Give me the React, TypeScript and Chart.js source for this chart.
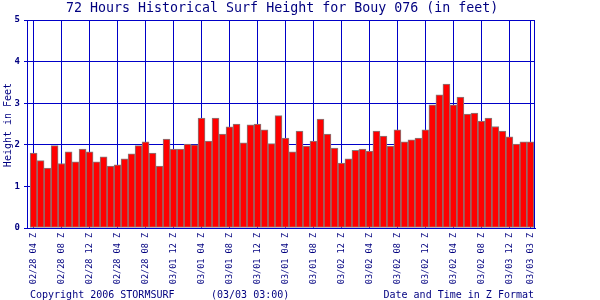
import React, { useEffect, useRef } from "react";
import { Chart, registerables } from "chart.js";

Chart.register(...registerables);

const TITLE = "72 Hours Historical Surf Height for Bouy 076 (in feet)";
const Y_TITLE = "Height in Feet";
const FOOT_LEFT = "Copyright 2006 STORMSURF";
const FOOT_MID = "(03/03 03:00)";
const FOOT_RIGHT = "Date and Time in Z Format";

const categories: string[] = [
  "02/28 04 Z", "02/28 05 Z", "02/28 06 Z", "02/28 07 Z", "02/28 08 Z", "02/28 09 Z", "02/28 10 Z", "02/28 11 Z",
  "02/28 12 Z", "02/28 01 Z", "02/28 02 Z", "02/28 03 Z", "02/28 04 Z", "02/28 05 Z", "02/28 06 Z", "02/28 07 Z",
  "02/28 08 Z", "02/28 09 Z", "02/28 10 Z", "02/28 11 Z",
  "03/01 12 Z", "03/01 01 Z", "03/01 02 Z", "03/01 03 Z", "03/01 04 Z", "03/01 05 Z", "03/01 06 Z", "03/01 07 Z",
  "03/01 08 Z", "03/01 09 Z", "03/01 10 Z", "03/01 11 Z", "03/01 12 Z", "03/01 01 Z", "03/01 02 Z", "03/01 03 Z",
  "03/01 04 Z", "03/01 05 Z", "03/01 06 Z", "03/01 07 Z", "03/01 08 Z", "03/01 09 Z", "03/01 10 Z", "03/01 11 Z",
  "03/02 12 Z", "03/02 01 Z", "03/02 02 Z", "03/02 03 Z", "03/02 04 Z", "03/02 05 Z", "03/02 06 Z", "03/02 07 Z",
  "03/02 08 Z", "03/02 09 Z", "03/02 10 Z", "03/02 11 Z", "03/02 12 Z", "03/02 01 Z", "03/02 02 Z", "03/02 03 Z",
  "03/02 04 Z", "03/02 05 Z", "03/02 06 Z", "03/02 07 Z", "03/02 08 Z", "03/02 09 Z", "03/02 10 Z", "03/02 11 Z",
  "03/03 12 Z", "03/03 01 Z", "03/03 02 Z", "03/03 03 Z",
];

const heights: number[] = [
  1.80, 1.62, 1.44, 1.98, 1.55, 1.83, 1.59, 1.90, 1.83, 1.59, 1.71, 1.49,
  1.52, 1.66, 1.78, 1.98, 2.07, 1.80, 1.49, 2.14, 1.90, 1.90, 2.02, 2.00,
  2.64, 2.09, 2.64, 2.26, 2.43, 2.50, 2.05, 2.48, 2.50, 2.36, 2.03, 2.70,
  2.16, 1.83, 2.33, 1.97, 2.09, 2.62, 2.26, 1.92, 1.56, 1.66, 1.87, 1.90,
  1.85, 2.33, 2.21, 1.97, 2.36, 2.07, 2.12, 2.16, 2.36, 2.96, 3.20, 3.46,
  2.96, 3.15, 2.74, 2.76, 2.57, 2.64, 2.44, 2.33, 2.19, 2.02, 2.07, 2.07,
];

const labeledTicks: number[] = [0, 4, 8, 12, 16, 20, 24, 28, 32, 36, 40, 44, 48, 52, 56, 60, 64, 68, 71];
const yTicks: number[] = [0, 1, 2, 3, 4, 5];

const BLUE = "#0000c8";
const NAVY = "#000080";
const MONO = "'DejaVu Sans Mono', monospace";

const textPlugin = {
  id: "surfText",
  afterDraw(chart: any) {
    const ctx = chart.ctx;
    const a = chart.chartArea;
    ctx.save();
    ctx.strokeStyle = BLUE;
    ctx.lineWidth = 1;
    ctx.strokeRect(Math.round(a.left) + 0.5, Math.round(a.top) + 0.5, Math.round(a.right - a.left) - 1, Math.round(a.bottom - a.top));
    ctx.fillStyle = NAVY;
    ctx.font = `13.3px ${MONO}`;
    ctx.textAlign = "left";
    ctx.textBaseline = "middle";
    ctx.fillText(TITLE, 66, 9);
    ctx.font = `10px ${MONO}`;
    ctx.fillText(FOOT_LEFT, 30, 295);
    ctx.fillText(FOOT_MID, 211, 295);
    ctx.textAlign = "right";
    ctx.fillText(FOOT_RIGHT, 534, 295);
    ctx.translate(8, 125);
    ctx.rotate(-Math.PI / 2);
    ctx.textAlign = "center";
    ctx.fillText(Y_TITLE, 0, 0);
    ctx.restore();
  },
};

export default function App() {
  const ref = useRef<HTMLCanvasElement>(null);
  useEffect(() => {
    if (!ref.current) return;
    const chart = new Chart(ref.current, {
      type: "bar",
      data: {
        datasets: [
          {
            data: heights.map((v, i) => ({ x: i, y: v })),
            backgroundColor: "#ff0000",
            borderColor: "#808080",
            borderWidth: 1,
            borderSkipped: false,
            barPercentage: 1,
            categoryPercentage: 1,
          },
        ],
      },
      options: {
        responsive: false,
        animation: false,
        layout: { padding: { top: 20, right: 65, left: 0, bottom: 0 } },
        plugins: { legend: { display: false }, tooltip: { enabled: false }, title: { display: false } },
        scales: {
          x: {
            type: "linear",
            offset: false,
            min: -0.943,
            max: 71.657,
            afterFit: (s: any) => {
              s.height = 72;
            },
            afterBuildTicks: (s: any) => {
              s.ticks = labeledTicks.map((v) => ({ value: v }));
            },
            grid: { offset: false, color: BLUE, lineWidth: 1, tickLength: 0, drawTicks: false },
            border: { color: BLUE, width: 1 },
            ticks: {
              autoSkip: false,
              maxRotation: 90,
              minRotation: 90,
              padding: 5,
              color: NAVY,
              font: { family: "DejaVu Sans Mono", size: 8.5 },
              callback: (v: any) => categories[v as number] ?? "",
            },
          },
          y: {
            min: 0,
            max: 5,
            afterFit: (s: any) => {
              s.width = 27;
            },
            afterBuildTicks: (s: any) => {
              s.ticks = yTicks.map((v) => ({ value: v }));
            },
            grid: { color: BLUE, lineWidth: 1, tickLength: 3 },
            border: { color: BLUE, width: 1 },
            ticks: {
              padding: 4,
              color: NAVY,
              font: { family: "DejaVu Sans Mono", size: 9, weight: "bold" },
            },
          },
        },
      },
      plugins: [textPlugin],
    } as any);
    return () => chart.destroy();
  }, []);
  return (
    <div style={{ position: "absolute", left: 0, top: 0, width: 600, height: 300, background: "#fff" }}>
      <canvas ref={ref} width={600} height={300} />
    </div>
  );
}
